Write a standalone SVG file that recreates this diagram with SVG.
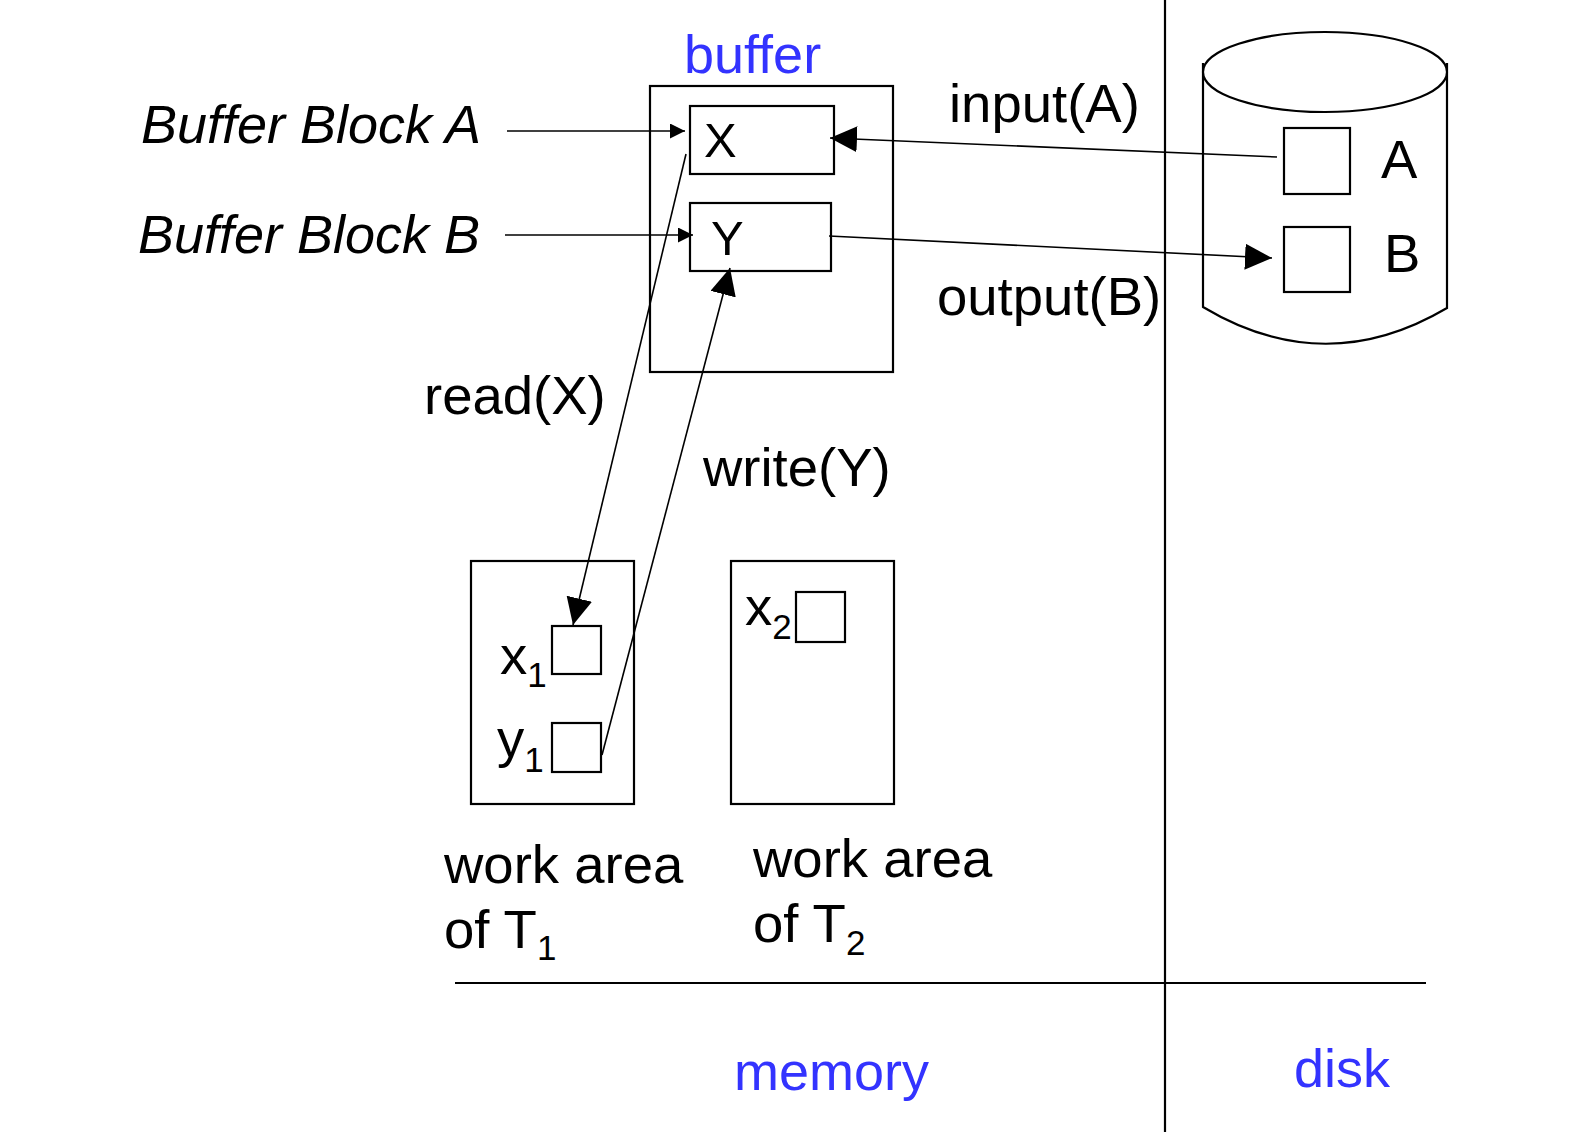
<svg xmlns="http://www.w3.org/2000/svg" width="1579" height="1132" viewBox="0 0 1579 1132">
<style>
  text { font-family: "Liberation Sans", Arial, sans-serif; fill: #000; }
  .lbl { font-size: 54.5px; }
  .it { font-size: 54px; font-style: italic; }
  .blue { fill: #3333FF; font-size: 54px; }
  .sub { font-size: 35px; }
  .box { fill: #fff; stroke: #000; stroke-width: 2.2; }
  .conn { fill: none; stroke: #000; stroke-width: 1.6; }
  .div { stroke: #000; stroke-width: 2.2; }
</style>
<defs>
  <marker id="big" markerUnits="userSpaceOnUse" markerWidth="28" markerHeight="26" refX="27" refY="13" orient="auto">
    <path d="M0,0 L27,13 L0,26 z" fill="#000"/>
  </marker>
  <marker id="small" markerUnits="userSpaceOnUse" markerWidth="16" markerHeight="15" refX="15" refY="7.5" orient="auto">
    <path d="M0,0 L15,7.5 L0,15 z" fill="#000"/>
  </marker>
</defs>
<rect width="1579" height="1132" fill="#fff"/>

<g id="dividers">
  <line class="div" x1="1165" y1="0" x2="1165" y2="1132"/>
  <line class="div" x1="455" y1="983" x2="1426" y2="983"/>
</g>

<g id="buffer">
  <rect class="box" x="650" y="86" width="243" height="286"/>
  <text class="blue" x="684" y="73">buffer</text>
</g>
<g id="blockX">
  <rect class="box" x="690" y="106" width="144" height="68"/>
  <text class="lbl" x="704" y="157" style="font-size:49px">X</text>
</g>
<g id="blockY">
  <rect class="box" x="690" y="203" width="141" height="68"/>
  <text class="lbl" x="711" y="255" style="font-size:49px">Y</text>
</g>

<g id="disk">
  <path class="box" d="M1203,63 L1203,307 Q1325,380 1447,308 L1447,63"/>
  <ellipse class="box" cx="1325" cy="72" rx="122" ry="40"/>
</g>
<g id="diskA">
  <rect class="box" x="1284" y="128" width="66" height="66"/>
  <text class="lbl" x="1381" y="178">A</text>
</g>
<g id="diskB">
  <rect class="box" x="1284" y="227" width="66" height="65"/>
  <text class="lbl" x="1384" y="272">B</text>
</g>

<g id="workT1">
  <rect class="box" x="471" y="561" width="163" height="243"/>
  <text class="lbl" x="444" y="883">work area</text>
  <text class="lbl" x="444" y="948">of T<tspan class="sub" dy="12">1</tspan></text>
</g>
<g id="x1">
  <rect class="box" x="552" y="626" width="49" height="48"/>
  <text class="lbl" x="500" y="674">x<tspan class="sub" dy="13">1</tspan></text>
</g>
<g id="y1">
  <rect class="box" x="552" y="723" width="49" height="49"/>
  <text class="lbl" x="497" y="757">y<tspan class="sub" dy="15">1</tspan></text>
</g>

<g id="workT2">
  <rect class="box" x="731" y="561" width="163" height="243"/>
  <text class="lbl" x="753" y="877">work area</text>
  <text class="lbl" x="753" y="942">of T<tspan class="sub" dy="13">2</tspan></text>
</g>
<g id="x2">
  <rect class="box" x="796" y="592" width="49" height="50"/>
  <text class="lbl" x="745" y="625">x<tspan class="sub" dy="14">2</tspan></text>
</g>

<g id="labels">
  <text class="it" x="141" y="143">Buffer Block A</text>
  <text class="it" x="138" y="253">Buffer Block B</text>
  <text class="lbl" x="949" y="122">input(A)</text>
  <text class="lbl" x="937" y="315">output(B)</text>
  <text class="lbl" x="424" y="414">read(X)</text>
  <text class="lbl" x="703" y="486">write(Y)</text>
  <text class="blue" x="734" y="1090">memory</text>
  <text class="blue" x="1294" y="1087">disk</text>
</g>

<g id="connectors">
  <line class="conn" x1="507" y1="131" x2="685" y2="131" marker-end="url(#small)"/>
  <line class="conn" x1="505" y1="235" x2="693" y2="235" marker-end="url(#small)"/>
  <line class="conn" x1="1277" y1="157" x2="830" y2="138" marker-end="url(#big)"/>
  <line class="conn" x1="829" y1="236" x2="1272" y2="258" marker-end="url(#big)"/>
  <line class="conn" x1="686" y1="154" x2="573" y2="625" marker-end="url(#big)"/>
  <line class="conn" x1="602" y1="755" x2="730" y2="268" marker-end="url(#big)"/>
</g>
</svg>
